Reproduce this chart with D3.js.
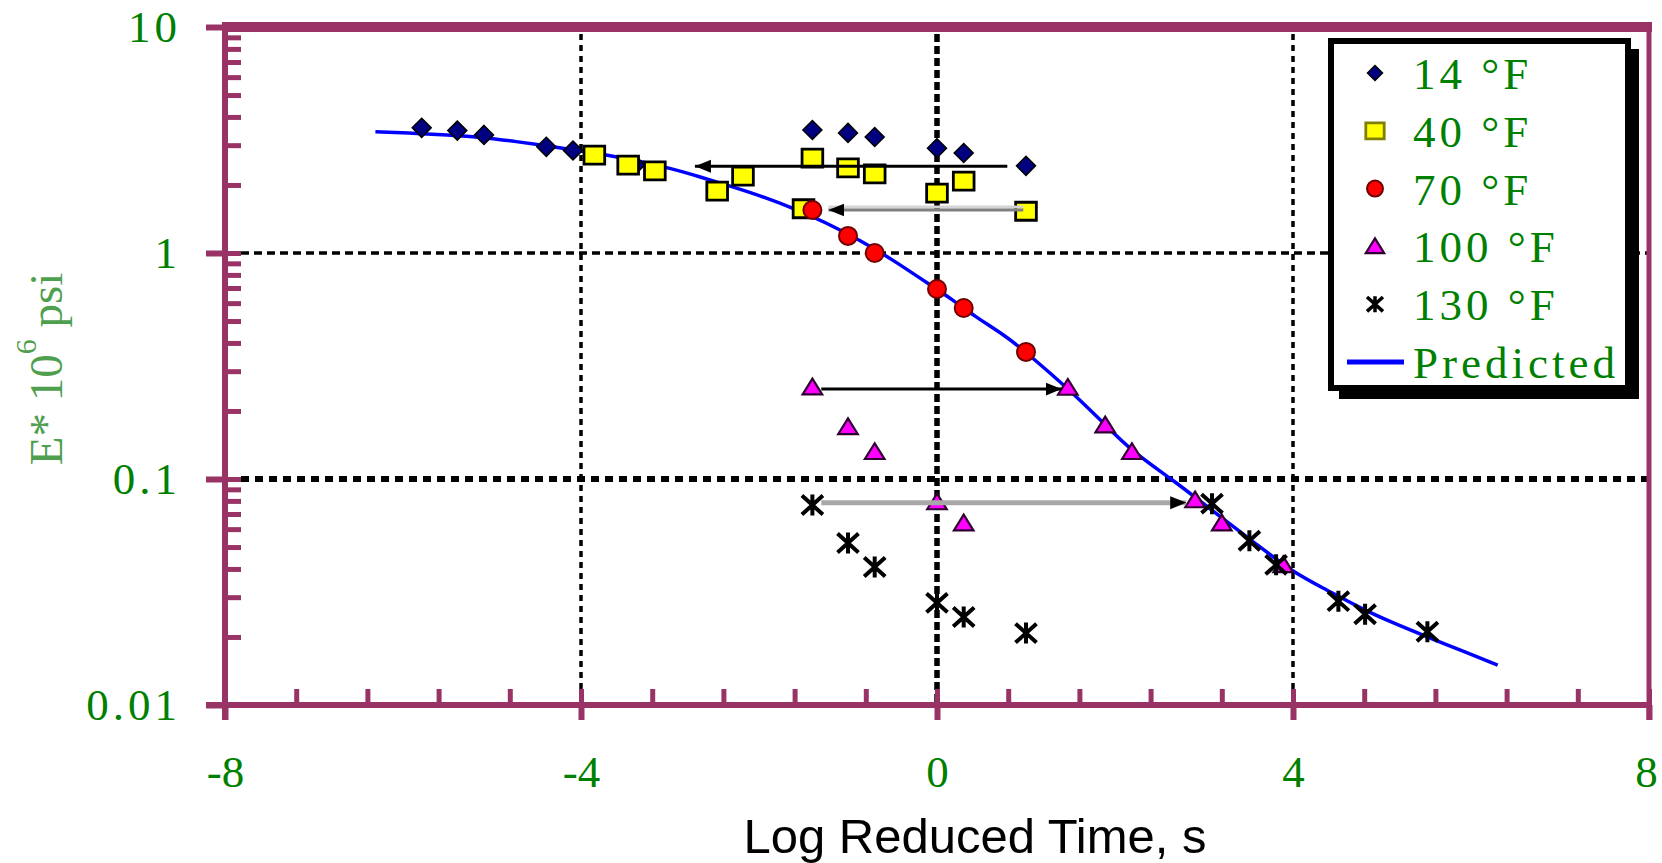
<!DOCTYPE html>
<html>
<head>
<meta charset="utf-8">
<script src="https://cdn.jsdelivr.net/npm/d3@7"></script>
<style>
  html, body { margin: 0; padding: 0; background: #fff; }
  svg { display: block; }
</style>
</head>
<body>
<script>
// axis ticks and labels
const xMajor = [-8, -4, 0, 4, 8];
const xTickLabels = ["-8", "-4", "0", "4", "8"];
const yMajor = [0.01, 0.1, 1, 10];
const yTickLabels = ["0.01", "0.1", "1", "10"];
const xGrid = [-4, 0, 4];
const yGrid = [1, 0.1];

// raw test times (log s) - same for every temperature
const rawTime = [-1.4, -1.0, -0.7, 0, 0.3, 1.0];

// 14 F
const e14Raw = [3.50, 3.40, 3.26, 2.91, 2.77, 2.43];
const t14Shift = [-5.79, -5.39, -5.09, -4.39, -4.09, -3.39];
const e14Shift = [3.58, 3.48, 3.33, 2.95, 2.84, 2.45];
// 40 F
const e40Raw = [2.63, 2.38, 2.24, 1.84, 2.08, 1.53];
const t40Shift = [-3.85, -3.47, -3.17, -2.47, -2.18, -1.50];
const e40Shift = [2.71, 2.45, 2.31, 1.88, 2.19, 1.57];
// 70 F (reference temperature, no shift)
const e70 = [1.55, 1.19, 1.00, 0.693, 0.571, 0.365];
// 100 F
const t100Raw = [-1.4, -1.0, -0.7, 0, 0.3];
const e100Raw = [0.255, 0.170, 0.132, 0.0791, 0.0638];
const t100Shift = [1.47, 1.89, 2.19, 2.90, 3.20, 3.89];
const e100Shift = [0.254, 0.173, 0.132, 0.0807, 0.0638, 0.0417];
// 130 F
const e130Raw = [0.0767, 0.0521, 0.0408, 0.0283, 0.0245, 0.0208];
const t130Shift = [3.09, 3.51, 3.81, 4.51, 4.81, 5.51];
const e130Shift = [0.0778, 0.0533, 0.0417, 0.0288, 0.0252, 0.0211];

// predicted master curve
const predTime = [-6.31, -5.89, -5.51, -5.10, -4.72, -4.38, -4.09, -3.64, -3.03, -2.66,
  -2.29, -1.91, -1.62, -1.24, -0.87, -0.49, -0.11, 0.18, 0.40, 0.79, 1.01, 1.49, 1.87,
  2.20, 2.65, 3.04, 3.63, 4.00, 4.38, 4.75, 5.12, 5.51, 5.88, 6.30];
const predE = [3.44, 3.39, 3.33, 3.25, 3.11, 2.98, 2.86, 2.69, 2.40, 2.17,
  1.96, 1.75, 1.58, 1.36, 1.14, 0.93, 0.736, 0.62, 0.532, 0.425, 0.361, 0.248, 0.177,
  0.1315, 0.0991, 0.0752, 0.0500, 0.0387, 0.0323, 0.0269, 0.0231, 0.0200, 0.0175, 0.0150];

// shift arrows
const arrowFrom = [0.79, 0.97, -1.30, -1.30];
const arrowTo = [-2.72, -1.22, 1.40, 2.80];
const arrowE = [2.42, 1.55, 0.250, 0.0786];

const legendLabels = ["14 °F", "40 °F", "70 °F", "100 °F", "130 °F", "Predicted"];

const axisColor = "#993366";
const serif = "'Liberation Serif', 'DejaVu Serif', serif";
const labelGreen = "#008000";

const svg = d3.select("body").append("svg")
  .attr("width", 1662)
  .attr("height", 863);

const x = d3.scaleLinear().domain([-8, 8]).range([225, 1649]);
const y = d3.scaleLog().domain([0.01, 10]).range([705, 27]);

// minor ticks: x every 0.8, y 2..9 per decade
const xMinor = d3.range(-8, 8.001, 0.8).filter((v) => !xMajor.some((m) => Math.abs(m - v) < 1e-6));
const yMinor = [];
[0.01, 0.1, 1].forEach((d) => {
  for (let k = 2; k <= 9; k++) yMinor.push(d * k);
});

// grid lines (dotted)
const gridV = [{ w: 3.5, dash: "6,5" }, { w: 5.5, dash: "8,4" }, { w: 3.5, dash: "6,5" }];
svg.append("g").selectAll("line")
  .data(xGrid)
  .enter()
  .append("line")
  .attr("x1", (d) => x(d))
  .attr("x2", (d) => x(d))
  .attr("y1", y(10) + 7)
  .attr("y2", y(0.01))
  .attr("stroke", "#000")
  .attr("stroke-width", (d, i) => gridV[i].w)
  .attr("stroke-dasharray", (d, i) => gridV[i].dash);

const gridH = [{ w: 3.5, dash: "8,5" }, { w: 6, dash: "8,6" }];
svg.append("g").selectAll("line")
  .data(yGrid)
  .enter()
  .append("line")
  .attr("x1", x(-8) + 16)
  .attr("x2", x(8))
  .attr("y1", (d) => y(d))
  .attr("y2", (d) => y(d))
  .attr("stroke", "#000")
  .attr("stroke-width", (d, i) => gridH[i].w)
  .attr("stroke-dasharray", (d, i) => gridH[i].dash);

// axes
function styleAxis(g, width) {
  g.select(".domain").remove();
  g.selectAll(".tick line").attr("stroke", axisColor).attr("stroke-width", width);
}

// y: outward major ticks with labels
svg.append("g")
  .attr("transform", `translate(${x(-8)},0)`)
  .call(d3.axisLeft(y).tickValues(yMajor).tickSize(19).tickPadding(25)
    .tickFormat((d, i) => yTickLabels[i]))
  .call((g) => styleAxis(g, 6))
  .call((g) => g.selectAll("text")
    .attr("fill", labelGreen)
    .attr("font-family", serif)
    .attr("font-size", 45)
    .attr("letter-spacing", 4)
    .attr("dy", "0.33em"));

// y: inward ticks
svg.append("g")
  .attr("transform", `translate(${x(-8)},0)`)
  .call(d3.axisRight(y).tickValues(yMajor.concat(yMinor)).tickSize(16).tickFormat(""))
  .call((g) => styleAxis(g, 5));

// x: outward major ticks with labels
svg.append("g")
  .attr("transform", `translate(0,${y(0.01)})`)
  .call(d3.axisBottom(x).tickValues(xMajor).tickSize(15).tickPadding(35)
    .tickFormat((d, i) => xTickLabels[i]))
  .call((g) => styleAxis(g, 6))
  .call((g) => g.selectAll("text")
    .attr("fill", labelGreen)
    .attr("font-family", serif)
    .attr("font-size", 45)
    .attr("dx", (d) => (d === 8 ? -3 : 0)));

// x: inward ticks
svg.append("g")
  .attr("transform", `translate(0,${y(0.01)})`)
  .call(d3.axisTop(x).tickValues(xMajor.concat(xMinor)).tickSize(16).tickFormat(""))
  .call((g) => styleAxis(g, 5));

// frame: top band, left axis, bottom axis, right border
const frame = svg.append("g").attr("stroke", axisColor).attr("fill", "none");
frame.append("line")
  .attr("x1", x(-8) - 3).attr("x2", x(8) + 3)
  .attr("y1", y(10)).attr("y2", y(10))
  .attr("stroke-width", 10);
frame.append("line")
  .attr("x1", x(-8)).attr("x2", x(-8))
  .attr("y1", y(10)).attr("y2", y(0.01) + 15)
  .attr("stroke-width", 6);
frame.append("line")
  .attr("x1", x(-8) - 19).attr("x2", x(8) + 3)
  .attr("y1", y(0.01)).attr("y2", y(0.01))
  .attr("stroke-width", 6);
frame.append("line")
  .attr("x1", x(8)).attr("x2", x(8))
  .attr("y1", y(10)).attr("y2", y(0.01) + 15)
  .attr("stroke-width", 5);

// predicted curve
const curveData = predTime.map((t, i) => ({ t: t, e: predE[i] }));
const line = d3.line()
  .x((d) => x(d.t))
  .y((d) => y(d.e))
  .curve(d3.curveBasis);
svg.append("path")
  .datum(curveData)
  .attr("d", line)
  .attr("fill", "none")
  .attr("stroke", "#0000ff")
  .attr("stroke-width", 3.5);

// marker shapes
const shapes = {
  diamond: (s) => `M0,${-s}L${s},0L0,${s}L${-s},0Z`,
  square: (s) => `M${-s * 1.15},${-s}H${s * 1.15}V${s}H${-s * 1.15}Z`,
  triangle: (s) => `M0,${-s}L${s * 1.15},${s * 0.85}H${-s * 1.15}Z`,
  star: (s) => `M${-s},${-s * 0.9}L${s},${s * 0.9}M${-s},${s * 0.9}L${s},${-s * 0.9}M0,${-s}V${s}`
};
const styles = {
  diamond: { fill: "#000080", stroke: "#000", sw: 1.5, size: 9.5 },
  square: { fill: "#ffff00", stroke: "#000", sw: 2.8, size: 9 },
  circle: { fill: "#ff0000", stroke: "#700000", sw: 2, size: 9 },
  triangle: { fill: "#ff00ff", stroke: "#300030", sw: 2.2, size: 8.5 },
  star: { fill: "none", stroke: "#000", sw: 4, size: 10.5 }
};

function toPoints(ts, es) {
  return ts.map((t, i) => ({ t: t, e: es[i] }));
}

function drawMarkers(points, kind) {
  const st = styles[kind];
  const g = svg.append("g");
  if (kind === "circle") {
    g.selectAll("circle")
      .data(points)
      .enter()
      .append("circle")
      .attr("cx", (d) => x(d.t))
      .attr("cy", (d) => y(d.e))
      .attr("r", st.size)
      .attr("fill", st.fill)
      .attr("stroke", st.stroke)
      .attr("stroke-width", st.sw);
  } else {
    g.selectAll("path")
      .data(points)
      .enter()
      .append("path")
      .attr("transform", (d) => `translate(${x(d.t)},${y(d.e)})`)
      .attr("d", shapes[kind](st.size))
      .attr("fill", st.fill)
      .attr("stroke", st.stroke)
      .attr("stroke-width", st.sw);
  }
}

drawMarkers(toPoints(t14Shift, e14Shift), "diamond");
drawMarkers(toPoints(rawTime, e14Raw), "diamond");
drawMarkers(toPoints(t40Shift, e40Shift), "square");
drawMarkers(toPoints(rawTime, e40Raw), "square");
drawMarkers(toPoints(rawTime, e70), "circle");
drawMarkers(toPoints(t100Raw, e100Raw), "triangle");
drawMarkers(toPoints(t100Shift, e100Shift), "triangle");
drawMarkers(toPoints(rawTime, e130Raw), "star");
drawMarkers(toPoints(t130Shift, e130Shift), "star");

// arrows
svg.append("defs").append("marker")
  .attr("id", "head")
  .attr("markerUnits", "userSpaceOnUse")
  .attr("viewBox", "0 -7 16 14")
  .attr("refX", 16)
  .attr("refY", 0)
  .attr("markerWidth", 16)
  .attr("markerHeight", 14)
  .attr("orient", "auto")
  .append("path")
  .attr("d", "M0,-6.5L16,0L0,6.5Z")
  .attr("fill", "#000");

const arrowStyle = [
  { color: "#000", w: 3, halo: null },
  { color: "#808080", w: 3, halo: "#d4d4d4" },
  { color: "#000", w: 3, halo: null },
  { color: "#a8a8a8", w: 5, halo: null }
];
const arrows = arrowFrom.map((f, i) => ({ from: f, to: arrowTo[i], e: arrowE[i], st: arrowStyle[i] }));
const ag = svg.append("g");
arrows.filter((a) => a.st.halo).forEach((a) => {
  ag.append("line")
    .attr("x1", x(a.from)).attr("x2", x(a.to))
    .attr("y1", y(a.e) - 3).attr("y2", y(a.e) - 3)
    .attr("stroke", a.st.halo)
    .attr("stroke-width", 3);
});
ag.selectAll("line.arrow")
  .data(arrows)
  .enter()
  .append("line")
  .attr("class", "arrow")
  .attr("x1", (d) => x(d.from))
  .attr("x2", (d) => x(d.to))
  .attr("y1", (d) => y(d.e))
  .attr("y2", (d) => y(d.e))
  .attr("stroke", (d) => d.st.color)
  .attr("stroke-width", (d) => d.st.w)
  .attr("marker-end", "url(#head)");

// legend
const lg = svg.append("g");
lg.append("rect")
  .attr("x", 1339).attr("y", 49)
  .attr("width", 300).attr("height", 350)
  .attr("fill", "#000");
lg.append("rect")
  .attr("x", 1331).attr("y", 41)
  .attr("width", 297).attr("height", 347)
  .attr("fill", "#fff")
  .attr("stroke", "#000")
  .attr("stroke-width", 6);

const legendKinds = ["diamond", "square", "circle", "triangle", "star", "line"];
const legendY = d3.scaleLinear().domain([0, 5]).range([73, 362]);
legendKinds.forEach((kind, i) => {
  const cy = legendY(i);
  if (kind === "line") {
    lg.append("line")
      .attr("x1", 1347).attr("x2", 1404)
      .attr("y1", cy).attr("y2", cy)
      .attr("stroke", "#0000ff")
      .attr("stroke-width", 5);
  } else if (kind === "circle") {
    lg.append("circle")
      .attr("cx", 1375).attr("cy", cy).attr("r", 8)
      .attr("fill", styles.circle.fill)
      .attr("stroke", styles.circle.stroke)
      .attr("stroke-width", 2);
  } else {
    const st = styles[kind];
    lg.append("path")
      .attr("transform", `translate(1375,${cy})`)
      .attr("d", shapes[kind](kind === "diamond" ? 7.5 : 8))
      .attr("fill", st.fill)
      .attr("stroke", kind === "square" ? "#808000" : st.stroke)
      .attr("stroke-width", kind === "star" ? 3.5 : st.sw);
  }
  lg.append("text")
    .attr("x", 1413)
    .attr("y", cy + 16)
    .attr("font-family", serif)
    .attr("font-size", 45)
    .attr("letter-spacing", 4)
    .attr("fill", labelGreen)
    .text(legendLabels[i]);
});

// axis titles
svg.append("text")
  .attr("x", 975)
  .attr("y", 853)
  .attr("text-anchor", "middle")
  .attr("font-family", "'Liberation Sans', Arial, sans-serif")
  .attr("font-size", 49)
  .attr("fill", "#000")
  .text("Log Reduced Time, s");

const yTitle = svg.append("text")
  .attr("transform", "translate(62,369) rotate(-90)")
  .attr("text-anchor", "middle")
  .attr("font-family", serif)
  .attr("font-size", 47)
  .attr("fill", "#4f9f4f");
yTitle.append("tspan").text("E* 10");
yTitle.append("tspan").attr("font-size", 30).attr("dy", -26).text("6");
yTitle.append("tspan").attr("dy", 26).text(" psi");
</script>
</body>
</html>
